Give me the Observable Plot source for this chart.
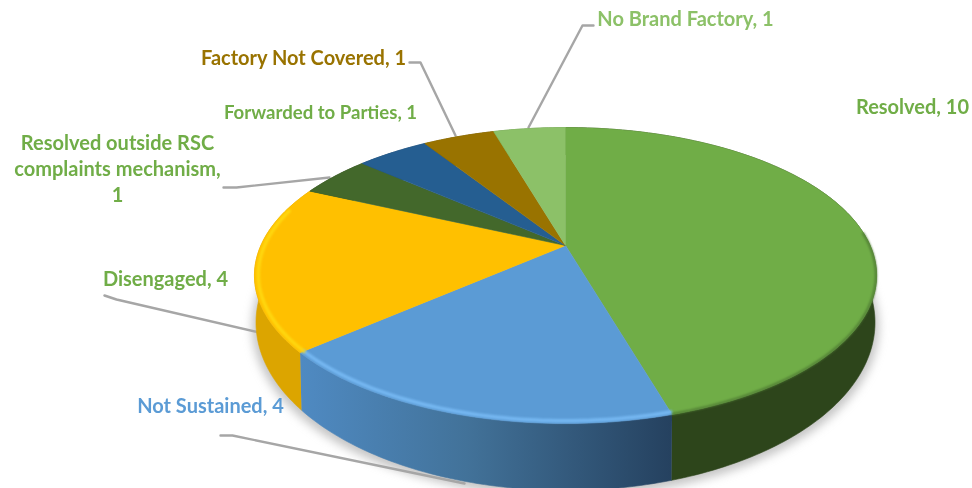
<!DOCTYPE html>
<html>
<head>
<meta charset="utf-8">
<script src="https://cdn.jsdelivr.net/npm/d3@7"></script>
<script src="https://cdn.jsdelivr.net/npm/@observablehq/plot@0.6"></script>
<style>
html,body{margin:0;padding:0;background:#fff;overflow:hidden}
svg{display:block}
</style>
</head>
<body>
<div id="chart"></div>
<script>
// Chart data
const categories = ["Resolved","Not Sustained","Disengaged","Resolved outside RSC complaints mechanism","Forwarded to Parties","Factory Not Covered","No Brand Factory"];
const values = [10,4,4,1,1,1,1];

// Styles
const topColors  = ["#70AD47","#5B9BD5","#FFC000","#43682B","#255E91","#997300","#8CC168"];
const wallColors = ["#2D451B","url(#blueWall)","#DCA500","#2D451B","#1A4266","#6B5000","#5F8A42"];
const rimColors  = ["#4E7A33","#76B8F2","#FFD70F",null,null,null,null];
const rimStart   = [85,0,229,0,0,0,0];
const rimEnd     = [163.64,229.09,285,0,0,0,0];
const rimRadius  = [0.998,0.988,0.988,1,1,1,1];
const textColors = ["#70AD47","#5B9BD5","#70AD47","#70AD47","#70AD47","#997300","#8CC168"];

// Label layout (pixels)
const labelText = ["Resolved, 10","Not Sustained, 4","Disengaged, 4","Resolved outside RSC\ncomplaints mechanism,\n1","Forwarded to Parties, 1","Factory Not Covered, 1","No Brand Factory, 1"];
const labelX = [912,210,165,117,320,303,685];
const labelY = [105,404,277,167,111,56,17];
const labelSize = [20,20,20,20,18.6,20,20];
const leaders = [
  [[220,435],[232,435],[464,483]],
  [[104,295],[116,299],[259,332]],
  [[223,187],[236,187],[329,177]],
  [[409,62],[420,62],[455,135]],
  [[593,25],[582,25],[528,127]]
];

// Pie projection: a tilted disc viewed in perspective
const cx = 565, cy = 245, Rx = 304.6, Ry = 141.9, k = 0.2026;
const baseCy = 288, baseSx = 0.995, baseSy = 1.135;
const rad = d => d * Math.PI / 180;
function rim(deg, r = 1, base = false) {
  const X = r * Math.sin(rad(deg)), Y = -r * Math.cos(rad(deg));
  const w = 1 / (1 - k * Y);
  return {
    x: cx + (base ? baseSx : 1) * Rx * X * w,
    y: (base ? baseCy : cy) + (base ? baseSy : 1) * Ry * Y * w
  };
}
const arc = (a, b, r, base) => {
  const n = Math.max(2, Math.ceil(Math.abs(b - a)));
  return d3.range(n + 1).map(i => rim(a + (b - a) * i / n, r, base));
};

const total = d3.sum(values);
let acc = 0;
const slices = values.map((v, i) => {
  const a = acc / total * 360; acc += v;
  return {i, a, b: acc / total * 360};
});

const poly = (pts, fill, extra = {}) =>
  Plot.line(pts, {x: "x", y: "y", fill, stroke: fill, strokeWidth: 0.6, ...extra});

const defs = () => {
  const d = d3.create("svg:defs");
  const g = d.append("linearGradient").attr("id", "blueWall");
  g.append("stop").attr("offset", "0%").attr("stop-color", "#4F8AC2");
  g.append("stop").attr("offset", "45%").attr("stop-color", "#427299");
  g.append("stop").attr("offset", "100%").attr("stop-color", "#25415F");
  return d.node();
};

const marks = [
  defs,
  // soft ground shadow
  Plot.line(arc(0, 360, 1.012, true).map(p => ({x: p.x, y: p.y + 3})), {x: "x", y: "y", fill: "#8c8c8c", stroke: "none", fillOpacity: 0.5, imageFilter: "blur(5px)"}),
  // leader lines
  ...leaders.map(l => Plot.line(l.map(([x, y]) => ({x, y})), {x: "x", y: "y", stroke: "#A6A6A6", strokeWidth: 2.4})),
  // walls
  ...slices.map(s => poly([...arc(s.a, s.b, 1, false), ...arc(s.b, s.a, 1, true)], wallColors[s.i])),
  // top faces
  ...slices.map(s => poly([{x: cx, y: cy}, ...arc(s.a, s.b, 1, false)], topColors[s.i])),
  // bevel along the rim
  ...slices.filter(s => rimColors[s.i]).map(s => {
    const start = Math.max(s.a, rimStart[s.i]);
    return Plot.line(arc(start, rimEnd[s.i], rimRadius[s.i], false), {x: "x", y: "y", stroke: rimColors[s.i], strokeWidth: s.i === 0 ? 2 : 3.5, imageFilter: "blur(1px)"});
  }),
  // labels
  Plot.text(labelText, {
    x: (d, i) => labelX[i], y: (d, i) => labelY[i], text: d => d,
    fill: (d, i) => textColors[i],
    fontSize: (d, i) => labelSize[i],
    fontFamily: "Lato", fontWeight: 700, lineHeight: 1.3, textAnchor: "middle",
    imageFilter: "blur(0.3px)"
  })
];

const chart = Plot.plot({
  width: 972, height: 488,
  margin: 0,
  x: {domain: [0, 972], range: [0, 972], axis: null},
  y: {domain: [0, 488], range: [0, 488], axis: null},
  color: {type: "identity"},
  marks
});
document.getElementById("chart").append(chart);
</script>
</body>
</html>
